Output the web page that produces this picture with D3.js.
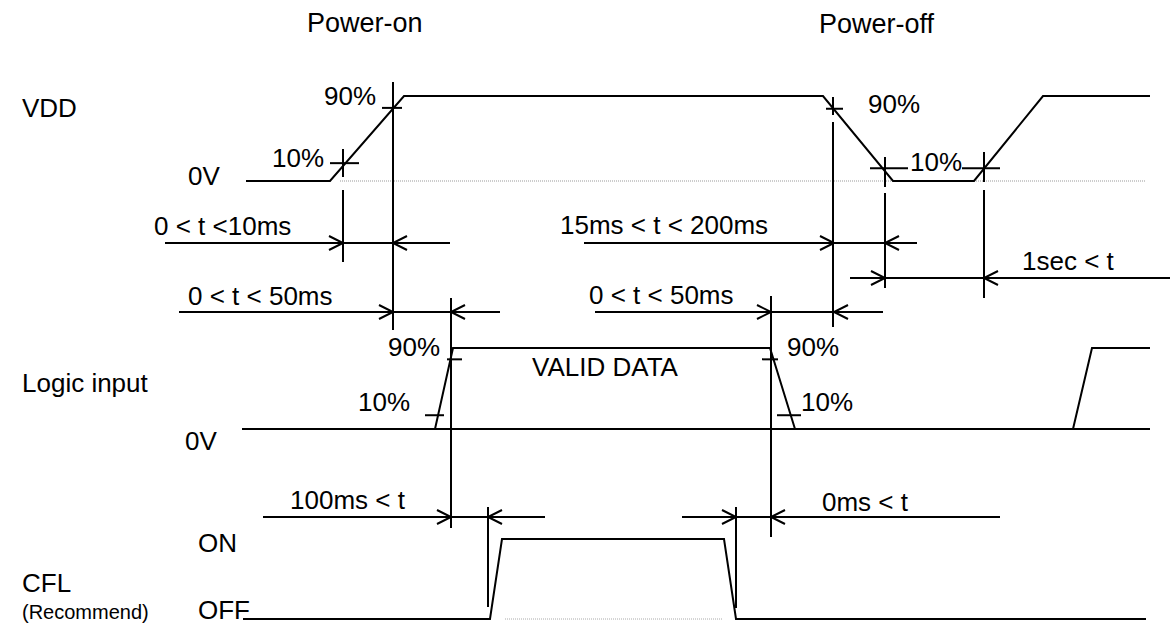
<!DOCTYPE html>
<html>
<head>
<meta charset="utf-8">
<script src="https://cdn.jsdelivr.net/npm/d3@7"></script>
<style>
  body { margin: 0; background: #fff; }
  svg text { font-family: "Liberation Sans", Arial, sans-serif; fill: #000; }
</style>
</head>
<body>
<div class="chart"></div>
<script>
// time runs in sheet units, level 0 = low, 1 = high
const vddWave = [[246, 0], [330, 0], [404, 1], [823, 1], [893, 0], [974, 0], [1043, 1], [1150, 1]];
const logicBase = [[242, 0], [1150, 0]];
const logicPulse = [[435, 0], [453, 1], [770, 1], [795, 0]];
const logicNext = [[1073, 0], [1092, 1], [1150, 1]];
const cflWave = [[243, 0], [490, 0], [502, 1], [724, 1], [736, 0], [1146, 0]];

// 10% / 90% crossing marks: time, level
const vddMarks = [[343, 0.21], [393, 0.86], [833, 0.85], [885, 0.15], [984, 0.15]];
const logicMarks = [[434, 0.17], [454, 0.86], [770, 0.86], [789, 0.17]];

// timing requirements
const dimLabels = ['0 < t <10ms', '0 < t < 50ms', '15ms < t < 200ms', '0 < t < 50ms', '1sec < t', '100ms < t', '0ms < t'];
const dimFrom = [343, 393, 834, 771, 885, 451, 736];
const dimTo = [393, 451, 885, 834, 984, 488, 771];

const signalNames = ['VDD', 'Logic input', 'CFL'];

function drawChart() {
  const width = 1173;
  const height = 624;
  const ink = '#000';

  const svg = d3.select('.chart')
                .append('svg:svg')
                .attr('width', width)
                .attr('height', height)
                .attr('viewBox', [0, 0, width, height]);

  const x = d3.scaleLinear().domain([0, width]).range([0, width]);
  const vddY = d3.scaleLinear().domain([0, 1]).range([181, 96]);
  const logicY = d3.scaleLinear().domain([0, 1]).range([429, 348]);
  const cflY = d3.scaleLinear().domain([0, 1]).range([619, 539]);

  const wave = y => d3.line().x(d => x(d[0])).y(d => y(d[1]));

  const addText = (txt, tx, ty, size) => svg.append('svg:text')
    .attr('x', tx).attr('y', ty)
    .attr('font-size', size || 26)
    .text(txt);

  const seg = (x1, y1, x2, y2, w) => svg.append('svg:line')
    .attr('x1', x1).attr('y1', y1).attr('x2', x2).attr('y2', y2)
    .attr('stroke', ink).attr('stroke-width', w || 1.6);

  // reference 0V lines (thin dotted)
  svg.append('svg:line')
     .attr('x1', x(340)).attr('x2', x(1145))
     .attr('y1', vddY(0)).attr('y2', vddY(0))
     .attr('stroke', '#999').attr('stroke-width', 1)
     .attr('stroke-dasharray', '1,1');
  svg.append('svg:line')
     .attr('x1', x(505)).attr('x2', x(722))
     .attr('y1', cflY(0)).attr('y2', cflY(0))
     .attr('stroke', '#aaa').attr('stroke-width', 1)
     .attr('stroke-dasharray', '1,1');

  // waveforms
  [[vddWave, vddY], [logicBase, logicY], [logicPulse, logicY], [logicNext, logicY], [cflWave, cflY]]
    .forEach(([data, y]) => {
      svg.append('svg:path')
         .attr('d', wave(y)(data))
         .attr('fill', 'none')
         .attr('stroke', ink)
         .attr('stroke-width', 2);
    });

  // crossing ticks (left / right extents)
  const vddTick = [[13, 16], [11, 9], [7, 10], [15, 23], [22, 16]];
  vddMarks.forEach((m, i) => {
    seg(x(m[0]) - vddTick[i][0], vddY(m[1]), x(m[0]) + vddTick[i][1], vddY(m[1]), 2);
  });
  const logicTick = [[9, 10], [7, 8], [8, 8], [12, 12]];
  logicMarks.forEach((m, i) => {
    seg(x(m[0]) - logicTick[i][0], logicY(m[1]), x(m[0]) + logicTick[i][1], logicY(m[1]), 2);
  });

  // vertical guides
  const guides = [
    [343, 149, 177], [343, 190, 262],
    [393, 82, 330],
    [833, 97, 115], [833, 122, 327],
    [885, 157, 187], [885, 193, 288],
    [984, 152, 182], [984, 190, 298],
    [451, 298, 528],
    [771, 296, 537],
    [488, 507, 607],
    [736, 507, 608]
  ];
  guides.forEach(g => seg(x(g[0]), g[1], x(g[0]), g[2], 2));

  // dimension lines with open arrow heads
  const dimRow = [243, 312, 243, 312, 278, 517, 517];
  const dimExt = [[165, 450], [179, 500], [584, 917], [595, 883], [850, 1170], [263, 545], [682, 1000]];
  const dimText = [[154, 235], [188, 305], [560, 234], [589, 304], [1022, 270], [290, 509], [822, 511]];
  const ah = 14, aw = 7;
  dimLabels.forEach((lbl, i) => {
    const yy = dimRow[i];
    const a = x(dimFrom[i]);
    const b = x(dimTo[i]);
    seg(x(dimExt[i][0]), yy, x(dimExt[i][1]), yy, 2);
    svg.append('svg:path')
       .attr('d', `M${a - ah},${yy - aw}L${a},${yy}L${a - ah},${yy + aw}`)
       .attr('fill', 'none').attr('stroke', ink).attr('stroke-width', 2);
    svg.append('svg:path')
       .attr('d', `M${b + ah},${yy - aw}L${b},${yy}L${b + ah},${yy + aw}`)
       .attr('fill', 'none').attr('stroke', ink).attr('stroke-width', 2);
    addText(lbl, dimText[i][0], dimText[i][1]);
  });

  // titles
  addText('Power-on', 307, 32, 27);
  addText('Power-off', 819, 33, 27);

  // signal names
  addText(signalNames[0], 22, 117);
  addText(signalNames[1], 22, 392);
  addText(signalNames[2], 22, 592);
  addText('(Recommend)', 22, 619, 20);

  // levels
  addText('0V', 188, 185);
  addText('0V', 185, 450);
  addText('ON', 198, 552);
  addText('OFF', 198, 619);

  // percentage labels
  addText('90%', 324, 105);
  addText('10%', 272, 167);
  addText('90%', 868, 113);
  addText('10%', 910, 171);
  addText('90%', 388, 356);
  addText('10%', 358, 411);
  addText('90%', 787, 356);
  addText('10%', 801, 411);
  addText('VALID DATA', 532, 376);
}

drawChart();
</script>
</body>
</html>
